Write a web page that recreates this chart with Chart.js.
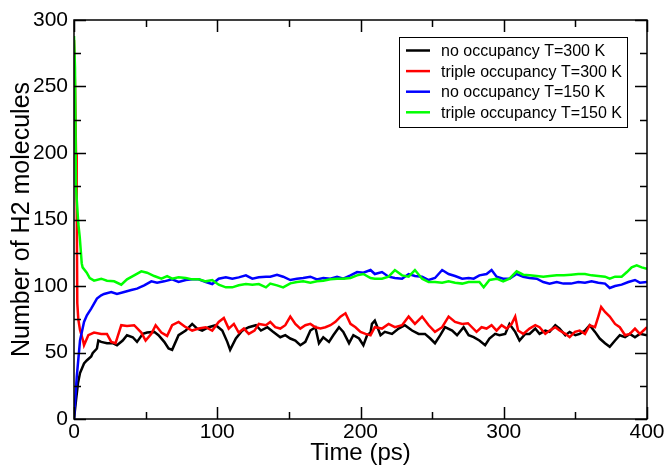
<!DOCTYPE html>
<html>
<head>
<meta charset="utf-8">
<script src="https://cdn.jsdelivr.net/npm/chart.js@4.4.1/dist/chart.umd.min.js"></script>
<style>
  html, body { margin: 0; padding: 0; background: #fff; }
  #wrap { width: 666px; height: 468px; }
</style>
</head>
<body>
<div id="wrap"><canvas id="myChart" width="666" height="468"></canvas></div>
<script>
// series labels and colours
var seriesLabels = ['no occupancy T=300 K', 'triple occupancy T=300 K', 'no occupancy T=150 K', 'triple occupancy T=150 K'];
var seriesColors = ['#000000', '#ff0000', '#0000ff', '#00ff00'];

// axis ticks
var xTicks = [0, 100, 200, 300, 400];
var yTicks = [0, 50, 100, 150, 200, 250, 300];

// no occupancy, 300 K
var blackTime = [0,1.5,2.8,4.2,7,8.9,12,13,16,17,19,23,27,30,34,37,41,44,48,51,56,59,63,66,68.5,73,78,82.5,86,89.5,94,99,103.5,107,109,113,117.5,122,127,130.5,135,138.5,141,144,147.5,151,154.5,158,161.5,165,168.5,171,174,178,181,185,188,192,195,199,202,204.6,207,208,210,214,217,222,226.6,231,236,240.6,245,248.7,252,255.7,259,264,267.4,272,275.5,279,283,287,290,294,297,301,304,308,311,315,318,322,325,329,332,336,339,343,346,350,353,356.7,360,363.7,367,370.7,374,377.7,381,384.7,388,391.6,395,400];
var blackCount = [0,15,27,34.5,41.8,44,47,49.5,53,59,58,57,57,55.5,59,63,61.5,58,64,65,65.5,63,58,53,52,63,66.5,71.5,68,66.5,69,70.5,66.5,58,52,60.5,66.5,69,70.5,66.5,69,66,64,61.5,63,60.5,59,55.5,58,66.5,69,57,61.5,58,63,69,65.5,57,63,60.5,55.5,63,65,71.5,74,63,65.5,64,68,70.5,66.5,64,64,60.5,57,63,69,66.5,63,69,63,61.5,59,55.5,60.5,64,63,64,71.5,65.5,59,64,64,68,64,66.5,65.5,70.5,68,63,65.5,63,64,66.5,70.5,65.5,60.5,57,54.3,59,63,61.5,64,61.5,64,63];

// triple occupancy, 300 K
var redTime = [0,0.7,1.4,1.9,2.3,3,4.2,6.3,7,10,14,19,23,26,29,33,37,42,47,50,54,57,61,65,68.5,73,78,82.5,87,92,96.5,101,104.6,108,111.6,115,118.6,122,126,129,134,137,140.5,144,147.5,151,154.5,158,161.5,165,168.5,172,175.5,179,182.5,186,189.5,193,196.5,200,203.5,207,210,215,219.6,224,229,233.6,238,243,247.6,252,257,261.5,266,271,275,281,284.5,288,291.5,295,298.5,302,305.5,308,310,313.6,318,322,325,329,332,336,339,343,346,349.7,353,356.7,360,363.7,366,368,370.7,374,377.7,381,384.7,388,391.6,395,400];
var redCount = [285,250,200,162,87,75,67,59,55.5,63,65,64,64,58,57,70.5,70,70.5,65,59,64,70.5,65,62.5,70.5,73,69,66.5,68,69,66.5,73,76,68,71.5,65,68,64,66.5,71.5,70.5,73,69,68,70.5,77,71.5,68,70.5,71.5,69,68,69,70.5,73,77,79.5,71.5,69,65.5,64,63,69,68,71.5,69,70.5,77,71.5,77,70.5,65.5,69,77,73,71.5,72,65.5,69,68,70.5,66.5,70.5,68,71.5,77,66.5,64,68,70.5,69,64,66.5,69,66.5,64,61.5,65.5,66.5,64,70.5,69,77,84.3,80.5,77,71.5,69,63,64,68,64,69];

// no occupancy, 150 K
var blueTime = [0,1.9,4.2,7,9,12,16,19,21,26,30,35,40,44,49,54,58,63,68.5,73,78,82.5,87,92,96.5,101,106,110.5,115,120,124.5,129,134,137,141.7,146,151,155.6,160,165,169.6,174,179,183.6,188,193,197.6,202,207,210,215,219.6,224,229,233.6,238,243,247.6,252,257,261.5,266,271,275.5,279,283,288,291.5,295,299.6,304,309,313.6,318,323,327.6,332,337,341.6,347,352,356.7,361.3,366,370.7,374,377.7,382.3,387,391.6,395,400];
var blueCount = [0,31.5,59,73,78,83,90.5,93,94,95.5,94,95.5,97,98,100.5,103.5,102.5,103.5,105,103,104.5,105,105,103,101.5,105.5,106.5,105.5,106.5,108,105.5,106.5,107,107,108.5,107,104.5,105.5,106,107,105,106,105.5,107,105.5,108,110.5,110,112,109,110.5,107,106,105.5,109,107.5,107,104.5,106,112,109,107.5,105.5,106,105.5,108,109,112,107,105.5,105.5,109,107,106,105.5,103,101.8,103,101.8,101.8,103,102.5,103.5,102.5,101.8,98.5,100,101,103,104.5,102.5,103];

// triple occupancy, 150 K
var greenTime = [0,0.7,1.4,3,4,5.4,6,8.9,11,14,19,23,28,33,37,42,47,51,56,61,65,68.5,73,78,82.5,87,92,96.5,101,106,110.5,115,120,124.5,129,134,137,141.7,146,151,155.6,160,165,169.6,174,179,183.6,188,193,197.6,202,207,210,215,219.6,224,229,233.6,238,243,247.6,252,257,261.5,266,271,275.5,279,283,286,290,295,299.6,304,309,313.6,318,323,327.6,332,337,342,347,352,356.7,361.3,366,370.7,374,377.7,382.3,386,389.3,392.8,396.3,400];
var greenCount = [288,264,174,147,137,117,114,110,106,104,105.5,104,103.5,101,105,108,111,110,107.5,105.5,107.5,105.5,106.5,106,105,105,103.5,104.5,101,99,99,100.5,101.5,101,101.5,99,101.8,100.5,99,102,103,103.5,102.5,103.5,104,105,105.5,105.5,106,108,109,106,105.5,105.5,107,112,108,107,112,105.5,103,103,102.5,103.5,102.5,101.8,103,103,103,99,104.5,105.5,103.5,105.5,111,108.5,108,107.5,107,107.5,108,108,108.5,109,109,108,107.5,107,105.5,107,107,110.5,114,115.5,114,113];

var FONT = "'Liberation Sans', Arial, Helvetica, sans-serif";

function toPoints(t, n) {
    return t.map(function (v, i) { return { x: v, y: n[i] }; });
}

var allTimes = [blackTime, redTime, blueTime, greenTime];
var allCounts = [blackCount, redCount, blueCount, greenCount];

var datasets = seriesLabels.map(function (lbl, i) {
    return {
        label: lbl,
        data: toPoints(allTimes[i], allCounts[i]),
        borderColor: seriesColors[i],
        backgroundColor: seriesColors[i],
        borderWidth: 2.5,
        pointRadius: 0,
        tension: 0,
        fill: false,
        order: 4 - i   // later series drawn on top
    };
});

// box, inward major/minor ticks on all four sides, legend inside the plot
var framePlugin = {
    id: 'frame',
    afterDraw: function (chart) {
        var c = chart.ctx, a = chart.chartArea;
        var xs = chart.scales.x, ys = chart.scales.y;
        c.save();
        c.strokeStyle = '#000';
        c.lineWidth = 1.5;
        c.strokeRect(a.left, a.top, a.right - a.left, a.bottom - a.top);
        c.beginPath();
        for (var xv = 0; xv <= 400; xv += 50) {
            var px = Math.round(xs.getPixelForValue(xv)) + 0.5;
            var len = (xv % 100 === 0) ? 12 : 7;
            c.moveTo(px, a.bottom); c.lineTo(px, a.bottom - len);
            c.moveTo(px, a.top); c.lineTo(px, a.top + len);
        }
        for (var yv = 0; yv <= 300; yv += 25) {
            var py = Math.round(ys.getPixelForValue(yv)) + 0.5;
            var ylen = (yv % 50 === 0) ? 12 : 7;
            c.moveTo(a.left, py); c.lineTo(a.left + ylen, py);
            c.moveTo(a.right, py); c.lineTo(a.right - ylen, py);
        }
        c.stroke();

        // legend
        var bx = 399, by = 37, bw = 228, bh = 90;
        c.fillStyle = '#fff';
        c.fillRect(bx, by, bw, bh);
        c.lineWidth = 1;
        c.strokeRect(bx + 0.5, by + 0.5, bw, bh);
        c.font = '16px ' + FONT;
        c.textBaseline = 'middle';
        c.textAlign = 'left';
        for (var i = 0; i < seriesLabels.length; i++) {
            var ry = by + 13.5 + i * 20.6;
            c.strokeStyle = seriesColors[i];
            c.lineWidth = 2.5;
            c.beginPath();
            c.moveTo(406, ry); c.lineTo(430, ry);
            c.stroke();
            c.fillStyle = '#000';
            c.fillText(seriesLabels[i], 441, ry + 1);
        }
        c.restore();
    }
};

new Chart(document.getElementById('myChart'), {
    type: 'line',
    data: { datasets: datasets },
    options: {
        responsive: false,
        animation: false,
        layout: { padding: { top: 20, right: 19, left: 7, bottom: 0 } },
        plugins: {
            legend: { display: false },
            tooltip: { enabled: false }
        },
        scales: {
            x: {
                type: 'linear',
                min: 0,
                max: 400,
                afterFit: function (s) { s.height = 49; },
                afterBuildTicks: function (s) { s.ticks = xTicks.map(function (v) { return { value: v }; }); },
                grid: { display: false, drawTicks: false },
                border: { display: false },
                ticks: { color: '#000', padding: 1, maxRotation: 0, font: { family: FONT, size: 21 } },
                title: {
                    display: true,
                    text: 'Time (ps)',
                    color: '#000',
                    padding: { top: 0, bottom: 0 },
                    font: { family: FONT, size: 24 }
                }
            },
            y: {
                min: 0,
                max: 300,
                afterFit: function (s) { s.width = 67; },
                afterBuildTicks: function (s) { s.ticks = yTicks.map(function (v) { return { value: v }; }); },
                grid: { display: false, drawTicks: false },
                border: { display: false },
                ticks: { color: '#000', padding: 6, font: { family: FONT, size: 21 } },
                title: {
                    display: true,
                    text: 'Number of H2 molecules',
                    color: '#000',
                    padding: { top: 0, bottom: 0 },
                    font: { family: FONT, size: 25 }
                }
            }
        }
    },
    plugins: [framePlugin]
});
</script>
</body>
</html>
